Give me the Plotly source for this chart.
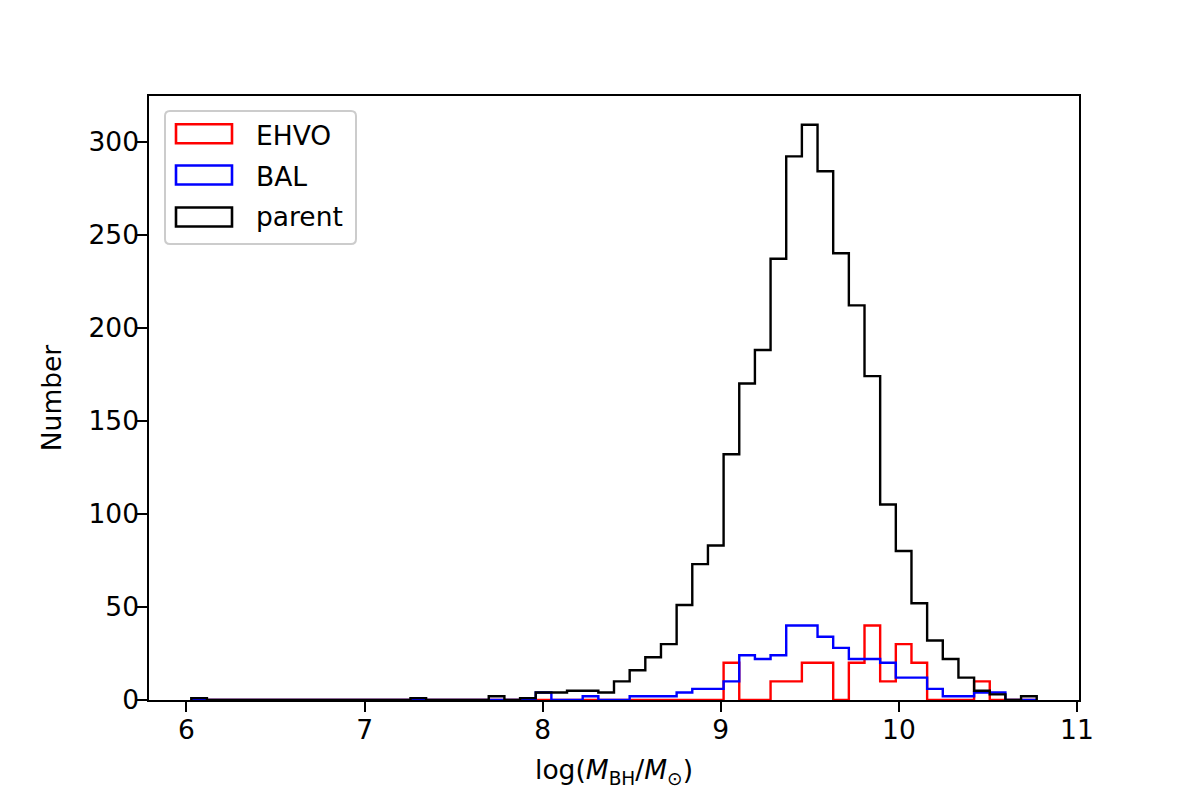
import numpy as np
import plotly.graph_objects as go

# shared histogram bins in log(M_BH / M_sun)
bin_lo, bin_hi, n_bins = 6.027, 10.774, 54
edges = np.linspace(bin_lo, bin_hi, n_bins + 1)

# counts per bin
parent_counts = ([1] + [0] * 13 + [1] + [0] * 4 + [2, 0, 1]
                 + [4, 4, 5, 5, 4, 10, 16, 23, 30, 51,
                    73, 83, 132, 170, 188, 237, 292, 309, 284, 240,
                    212, 174, 105, 80, 52, 32, 22, 12, 5, 3,
                    0, 2])
bal_counts = ([0] * 22
              + [4, 0, 0, 2, 0, 0, 2, 2, 2, 4,
                 6, 6, 10, 24, 22, 24, 40, 40, 34, 28,
                 22, 22, 20, 12, 12, 6, 2, 2, 4, 4,
                 0, 0])
ehvo_counts = ([0] * 34
               + [20, 0, 0, 10, 10, 20, 20, 0, 20, 40,
                  10, 30, 20, 0, 0, 0, 10, 0, 0, 0])

series = [("EHVO", ehvo_counts, "red"),
          ("BAL", bal_counts, "blue"),
          ("parent", parent_counts, "black")]

FONT = "DejaVu Sans"
FS = 26.5
PAGE = 8  # default body margin of the html page
W, H = 1200 - PAGE, 800 - PAGE
ML, MR, MT, MB = 141, 121, 88, 100


def to_paper(px, py):
    # screen pixel position -> paper fraction
    px, py = px - PAGE, py - PAGE
    return (px - ML) / (W - ML - MR), (H - MB - py) / (H - MT - MB)


fig = go.Figure()

# step outlines like histtype='step'
for name, counts, color in series:
    xs = [edges[0]] + list(edges)
    ys = [0] + list(counts) + [0]
    fig.add_trace(go.Scatter(x=xs, y=ys, mode="lines", line_shape="hv",
                             line=dict(color=color, width=2.4),
                             name=name, showlegend=False, hoverinfo="skip"))

span = edges[-1] - edges[0]
xr = [edges[0] - 0.05 * span, edges[-1] + 0.05 * span]
yr = [0, 1.05 * max(parent_counts)]

axis_common = dict(showgrid=False, zeroline=False, showline=True,
                   linecolor="black", linewidth=2, mirror=True,
                   ticks="outside", ticklen=9.7, tickwidth=2,
                   tickcolor="black", tickfont=dict(family=FONT, size=FS,
                                                    color="black"))

fig.update_xaxes(range=xr, tickvals=[6, 7, 8, 9, 10, 11],
                 ticklabelstandoff=-5,
                 title=dict(text="log(<i>M</i><sub>BH</sub>/<i>M</i><sub>⊙</sub>)",
                            font=dict(family=FONT, size=FS, color="black"),
                            standoff=17),
                 **axis_common)
fig.update_yaxes(range=yr, tickvals=[0, 50, 100, 150, 200, 250, 300],
                 ticklabelstandoff=-7,
                 title=dict(text="Number",
                            font=dict(family=FONT, size=FS, color="black"),
                            standoff=19),
                 **axis_common)

# hand-made legend, matplotlib style (rounded frame, open rectangles)
x0, y0, x1, y1, r = 165, 111, 356, 244, 5
pts = [("M", x0 + r, y0), ("L", x1 - r, y0), ("Q", x1, y0), ("", x1, y0 + r),
       ("L", x1, y1 - r), ("Q", x1, y1), ("", x1 - r, y1),
       ("L", x0 + r, y1), ("Q", x0, y1), ("", x0, y1 - r),
       ("L", x0, y0 + r), ("Q", x0, y0), ("", x0 + r, y0)]
path = ""
for cmd, px, py in pts:
    a, b = to_paper(px, py)
    path += f"{cmd}{a:.5f},{b:.5f} "
path += "Z"
fig.add_shape(type="path", path=path, xref="paper", yref="paper",
              line=dict(color="#cccccc", width=2), fillcolor="white",
              layer="above")

patch_mid = [133.7, 175, 217]
text_mid = [135, 176.5, 216.5]
for (name, counts, color), pm, tm in zip(series, patch_mid, text_mid):
    ax0, ay0 = to_paper(176, pm - 9.5)
    ax1, ay1 = to_paper(232, pm + 9.5)
    fig.add_shape(type="rect", xref="paper", yref="paper",
                  x0=ax0, y0=ay0, x1=ax1, y1=ay1,
                  line=dict(color=color, width=2.6), layer="above")
    tx, ty = to_paper(254, tm)
    fig.add_annotation(x=tx, y=ty, xref="paper", yref="paper",
                       text=name, showarrow=False, xanchor="left",
                       yanchor="middle",
                       font=dict(family=FONT, size=FS, color="black"))

fig.update_layout(width=W, height=H,
                  margin=dict(l=ML, r=MR, t=MT, b=MB),
                  plot_bgcolor="white", paper_bgcolor="white",
                  font=dict(family=FONT, size=FS, color="black"),
                  showlegend=False)

fig.write_html("out.html")
